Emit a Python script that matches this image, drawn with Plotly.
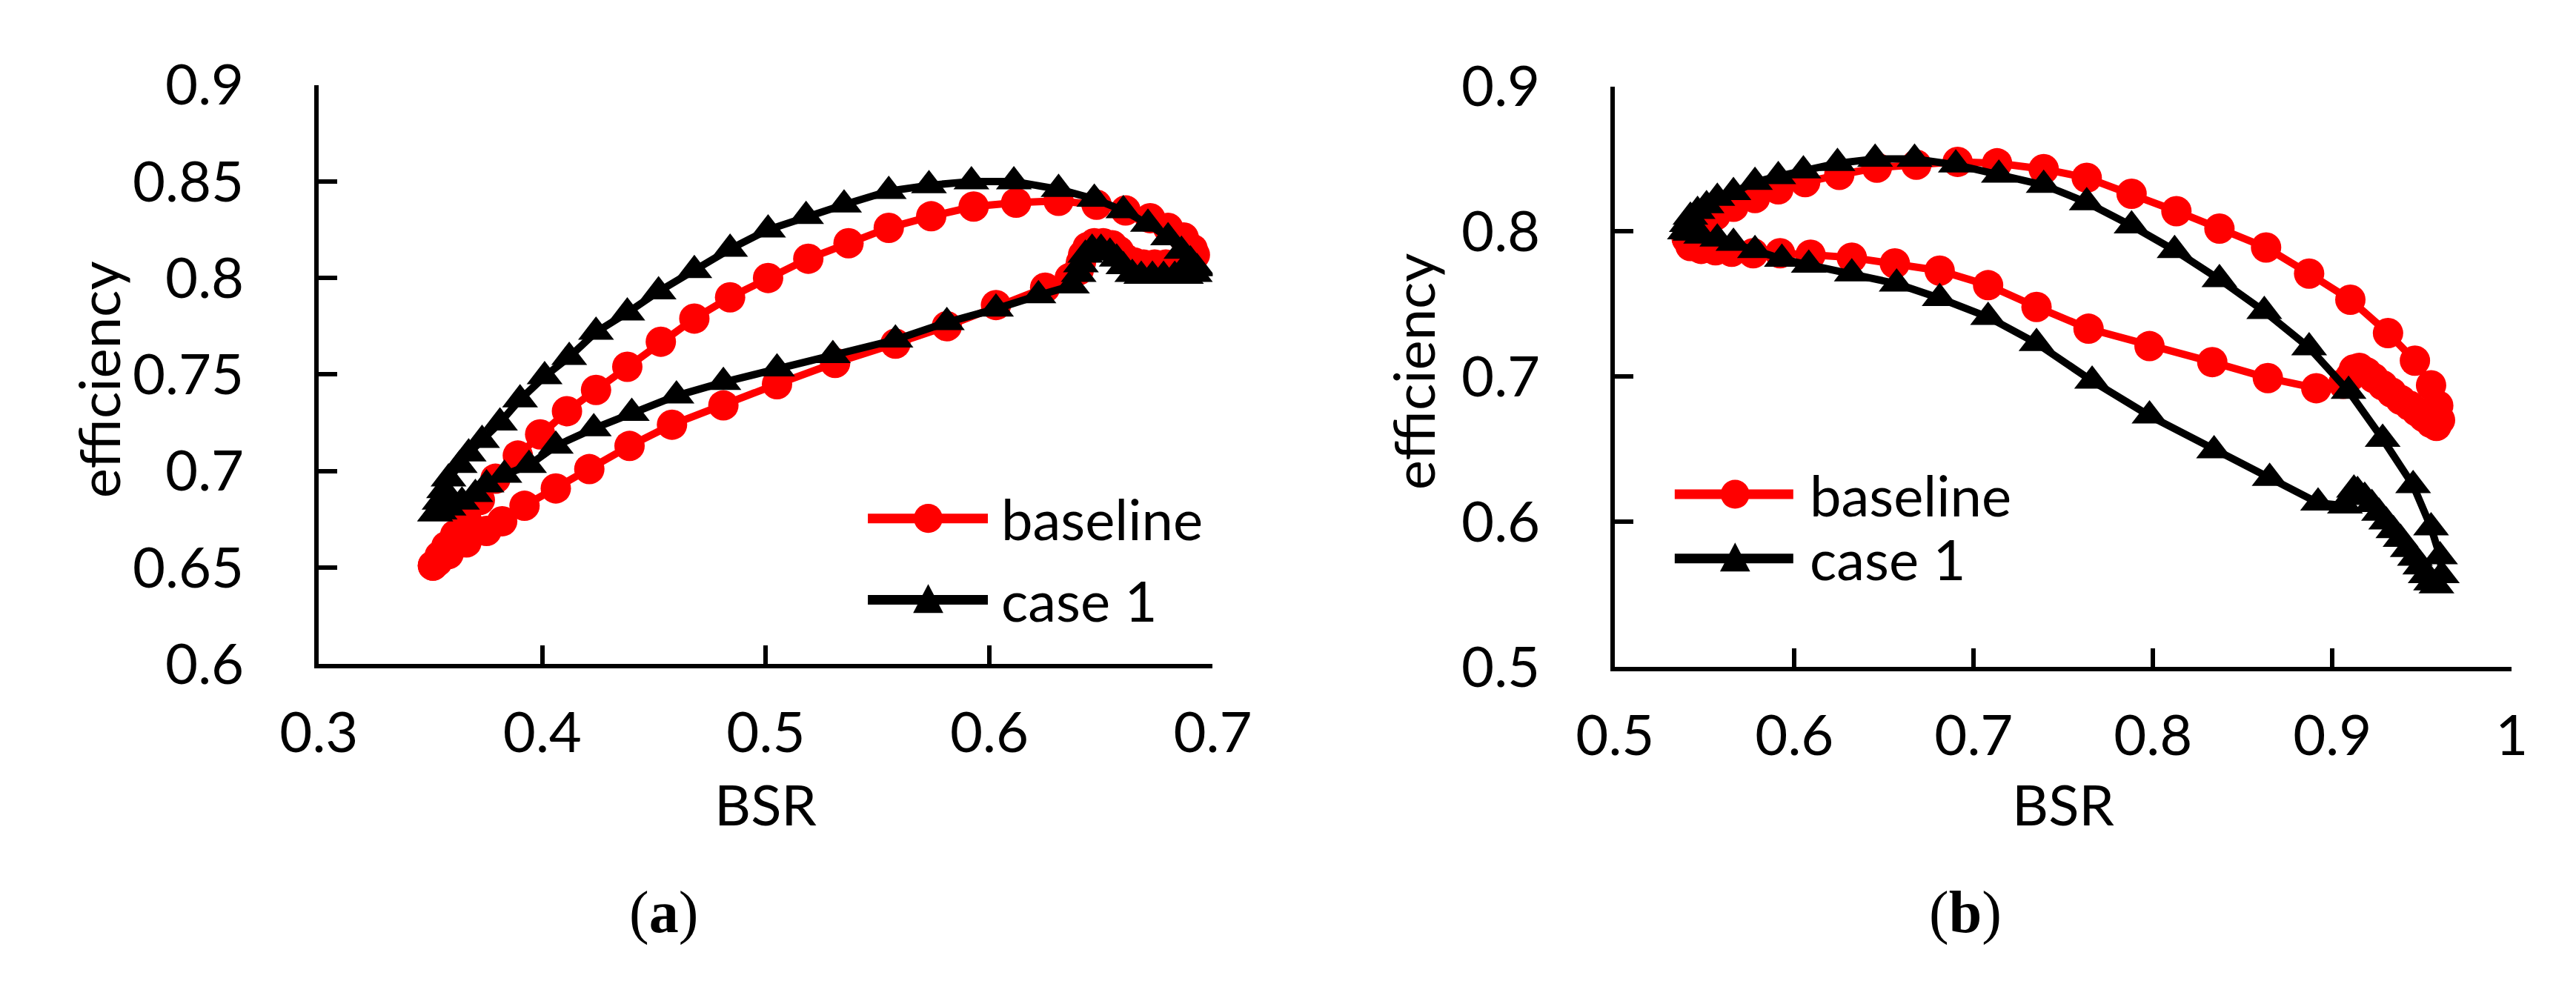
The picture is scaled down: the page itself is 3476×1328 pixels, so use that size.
# Efficiency vs BSR loops, baseline against case 1, two panels
import plotly.graph_objects as go

W, H = 3476, 1328

# ---- data ----
# panel (a)
a_base_x = [0.351, 0.354, 0.357, 0.361, 0.366, 0.372, 0.379, 0.389, 0.399, 0.411,
            0.424, 0.438, 0.453, 0.468, 0.484, 0.501, 0.519, 0.537, 0.555, 0.574,
            0.593, 0.612, 0.631, 0.648, 0.661, 0.672, 0.680, 0.687, 0.691, 0.692,
            0.689, 0.684, 0.679, 0.674, 0.669, 0.665, 0.661,
            0.658, 0.655, 0.651, 0.647, 0.644, 0.642, 0.641, 0.640,
            0.636, 0.625, 0.603, 0.581, 0.558, 0.531, 0.505, 0.481, 0.458, 0.439,
            0.421, 0.406, 0.392, 0.382, 0.375, 0.366, 0.358, 0.353, 0.351]
a_base_y = [0.651, 0.656, 0.661, 0.667, 0.675, 0.685, 0.696, 0.708, 0.719, 0.731,
            0.742, 0.754, 0.767, 0.779, 0.790, 0.800, 0.810, 0.818, 0.826, 0.832,
            0.837, 0.839, 0.840, 0.838, 0.835, 0.831, 0.826, 0.821, 0.815, 0.812,
            0.808, 0.807, 0.807, 0.807, 0.807, 0.808, 0.810,
            0.814, 0.817, 0.818, 0.818, 0.816, 0.812, 0.808, 0.804,
            0.800, 0.795, 0.786, 0.775, 0.766, 0.756, 0.745, 0.734, 0.724, 0.713,
            0.701, 0.691, 0.682, 0.674, 0.669, 0.663, 0.657, 0.653, 0.651]

a_case_x = [0.352, 0.354, 0.356, 0.358, 0.363, 0.367, 0.373, 0.381, 0.390, 0.401,
            0.412, 0.424, 0.438, 0.452, 0.468, 0.484, 0.501, 0.518, 0.535, 0.555,
            0.573, 0.592, 0.611, 0.631, 0.647, 0.660, 0.671, 0.680, 0.686, 0.690,
            0.693, 0.692,
            0.688, 0.683, 0.678, 0.673, 0.668, 0.664,
            0.660, 0.657, 0.654, 0.650, 0.646, 0.643, 0.641, 0.640,
            0.637, 0.622, 0.603, 0.581, 0.558, 0.530, 0.505, 0.481, 0.460, 0.440,
            0.423, 0.406, 0.394, 0.383, 0.375, 0.370, 0.364, 0.358, 0.354, 0.352]
a_case_y = [0.678, 0.684, 0.690, 0.696, 0.703, 0.709, 0.716, 0.725, 0.737, 0.749,
            0.759, 0.772, 0.782, 0.793, 0.804, 0.815, 0.825, 0.832, 0.838, 0.845,
            0.848, 0.850, 0.850, 0.846, 0.841, 0.835, 0.828, 0.821, 0.814, 0.809,
            0.805, 0.802,
            0.801, 0.801, 0.801, 0.801, 0.801, 0.802,
            0.806, 0.810, 0.813, 0.815, 0.815, 0.812, 0.807, 0.802,
            0.796, 0.791, 0.784, 0.777, 0.768, 0.760, 0.753, 0.746, 0.739, 0.730,
            0.722, 0.713, 0.703, 0.698, 0.693, 0.688, 0.684, 0.681, 0.679, 0.678]

# panel (b)
b_base_x = [0.540, 0.541, 0.544, 0.549, 0.556, 0.566, 0.578, 0.591, 0.606, 0.625,
            0.646, 0.668, 0.691, 0.713, 0.739, 0.763, 0.788, 0.813, 0.837, 0.863,
            0.887, 0.910, 0.931, 0.946, 0.955, 0.959, 0.960, 0.958,
            0.955, 0.951, 0.947, 0.943, 0.938, 0.933, 0.928, 0.923, 0.919, 0.915,
            0.912, 0.910, 0.906,
            0.891, 0.864, 0.833, 0.798, 0.764, 0.735, 0.708, 0.681, 0.656, 0.632,
            0.609, 0.592, 0.577, 0.565, 0.556, 0.548, 0.542, 0.540]
b_base_y = [0.795, 0.799, 0.803, 0.807, 0.811, 0.817, 0.823, 0.829, 0.834, 0.839,
            0.844, 0.846, 0.848, 0.847, 0.843, 0.837, 0.826, 0.814, 0.802, 0.789,
            0.771, 0.753, 0.730, 0.711, 0.694, 0.680, 0.670, 0.666,
            0.668, 0.672, 0.676, 0.680, 0.684, 0.689, 0.694, 0.699, 0.703, 0.706,
            0.705, 0.700, 0.695,
            0.692, 0.699, 0.710, 0.721, 0.733, 0.748, 0.763, 0.773, 0.778, 0.782,
            0.784, 0.785, 0.785, 0.786, 0.787, 0.788, 0.790, 0.795]

b_case_x = [0.539, 0.540, 0.542, 0.546, 0.551, 0.557, 0.566, 0.578, 0.591, 0.605,
            0.624, 0.645, 0.667, 0.690, 0.714, 0.739, 0.763, 0.788, 0.812, 0.837,
            0.862, 0.887, 0.909, 0.928, 0.945, 0.955, 0.960, 0.961, 0.958,
            0.955, 0.952, 0.949, 0.946, 0.942, 0.938, 0.934, 0.930, 0.926, 0.922,
            0.918, 0.914, 0.912, 0.910, 0.907,
            0.892, 0.865, 0.834, 0.798, 0.766, 0.735, 0.708, 0.681, 0.657, 0.632,
            0.608, 0.593, 0.578, 0.566, 0.557, 0.548, 0.542, 0.539]
b_case_y = [0.800, 0.805, 0.810, 0.814, 0.818, 0.823, 0.827, 0.834, 0.838, 0.842,
            0.847, 0.850, 0.850, 0.846, 0.839, 0.832, 0.820, 0.804, 0.787, 0.767,
            0.745, 0.720, 0.690, 0.657, 0.625, 0.596, 0.576, 0.563, 0.556,
            0.558, 0.563, 0.569, 0.575, 0.581, 0.588, 0.594, 0.600, 0.606, 0.612,
            0.617, 0.621, 0.622, 0.617, 0.611,
            0.613, 0.630, 0.649, 0.673, 0.697, 0.723, 0.741, 0.754, 0.764, 0.771,
            0.777, 0.781, 0.787, 0.792, 0.795, 0.797, 0.799, 0.800]

a_xticks = [0.3, 0.4, 0.5, 0.6, 0.7]
a_xtext = ["0.3", "0.4", "0.5", "0.6", "0.7"]
a_yticks = [0.6, 0.65, 0.7, 0.75, 0.8, 0.85, 0.9]
a_ytext = ["0.6", "0.65", "0.7", "0.75", "0.8", "0.85", "0.9"]
b_xticks = [0.5, 0.6, 0.7, 0.8, 0.9, 1.0]
b_xtext = ["0.5", "0.6", "0.7", "0.8", "0.9", "1"]
b_yticks = [0.5, 0.6, 0.7, 0.8, 0.9]
b_ytext = ["0.5", "0.6", "0.7", "0.8", "0.9"]

names = ["baseline", "case 1"]
RED = "#ff0000"
BLACK = "#000000"
FONT = "Lato"


def px(x):
    return x / W


def py(y):
    return 1 - y / H


fig = go.Figure()

for xs, ys, col, sym, sz, ax in [
    (a_base_x, a_base_y, RED, "circle", 41, ("x", "y")),
    (a_case_x, a_case_y, BLACK, "triangle-up", 42, ("x", "y")),
    (b_base_x, b_base_y, RED, "circle", 41, ("x2", "y2")),
    (b_case_x, b_case_y, BLACK, "triangle-up", 42, ("x2", "y2")),
]:
    fig.add_trace(go.Scatter(
        x=xs, y=ys, xaxis=ax[0], yaxis=ax[1],
        mode="lines+markers",
        line=dict(color=col, width=10),
        marker=dict(symbol=sym, size=sz, color=col, line=dict(width=0)),
        showlegend=False, hoverinfo="skip",
    ))

axis_common = dict(
    showline=True, linecolor="black", linewidth=6,
    ticks="inside", ticklen=25, tickwidth=6, tickcolor="black",
    showgrid=False, zeroline=False,
    tickfont=dict(family=FONT, size=76, color="black"),
    tickmode="array",
)

fig.update_layout(
    width=W, height=H,
    margin=dict(l=0, r=0, t=0, b=0),
    paper_bgcolor="white", plot_bgcolor="white",
    xaxis=dict(domain=[px(381), px(1625)], range=[0.3, 0.7], anchor="y",
               tickvals=a_xticks, ticktext=a_xtext, ticklabelstandoff=22, **axis_common),
    yaxis=dict(domain=[py(902), py(63)], range=[0.6, 0.9], anchor="x",
               tickvals=a_yticks, ticktext=a_ytext, ticklabelstandoff=80, **axis_common),
    xaxis2=dict(domain=[px(2185), px(3433)], range=[0.5, 1.0], anchor="y2",
                tickvals=b_xticks, ticktext=b_xtext, ticklabelstandoff=22, **axis_common),
    yaxis2=dict(domain=[py(906), py(65)], range=[0.5, 0.9], anchor="x2",
                tickvals=b_yticks, ticktext=b_ytext, ticklabelstandoff=80, **axis_common),
)

ann = []
shapes = []
lbl = dict(family=FONT, size=76, color="black")

# axis titles and panel captions
for x, y in [(1003, 1104), (2809, 1104)]:
    ann.append(dict(x=px(x), y=py(y), xref="paper", yref="paper", text="BSR",
                    showarrow=False, font=lbl, xanchor="center", yanchor="middle"))
for x, y in [(74, 490), (1903, 478)]:
    ann.append(dict(x=px(x), y=py(y), xref="paper", yref="paper", text="efficiency",
                    textangle=-90, showarrow=False, font=lbl,
                    xanchor="center", yanchor="middle"))
for x, y, t in [(861, 1262, "a"), (2672, 1262, "b")]:
    ann.append(dict(x=px(x), y=py(y), xref="paper", yref="paper",
                    text="(<b>%s</b>)" % t, showarrow=False,
                    font=dict(family="Liberation Serif", size=80, color="black"),
                    xanchor="center", yanchor="middle"))

# hand-drawn legends (plotly caps legend symbol sizes)
legends = [
    (1145, 1312, 1229, 1329, [691, 809]),
    (2268, 2433, 2352, 2454, [656, 749]),
]
for x0, x1, xm, xt, rows in legends:
    for i, yr in enumerate(rows):
        col = RED if i == 0 else BLACK
        shapes.append(dict(type="line", xref="paper", yref="paper",
                           x0=px(x0), x1=px(x1), y0=py(yr), y1=py(yr),
                           line=dict(color=col, width=13)))
        if i == 0:
            shapes.append(dict(type="circle", xref="paper", yref="paper",
                               x0=px(xm - 20), x1=px(xm + 20),
                               y0=py(yr + 21), y1=py(yr - 21),
                               fillcolor=col, line=dict(width=0)))
        else:
            path = "M %f %f L %f %f L %f %f Z" % (
                px(xm), py(yr - 23), px(xm - 21), py(yr + 19), px(xm + 21), py(yr + 19))
            shapes.append(dict(type="path", xref="paper", yref="paper", path=path,
                               fillcolor=col, line=dict(width=0)))
        ann.append(dict(x=px(xt), y=py(yr), xref="paper", yref="paper", text=names[i],
                        showarrow=False, font=lbl, xanchor="left", yanchor="middle"))

fig.update_layout(annotations=ann, shapes=shapes)

fig.write_html("out.html")
